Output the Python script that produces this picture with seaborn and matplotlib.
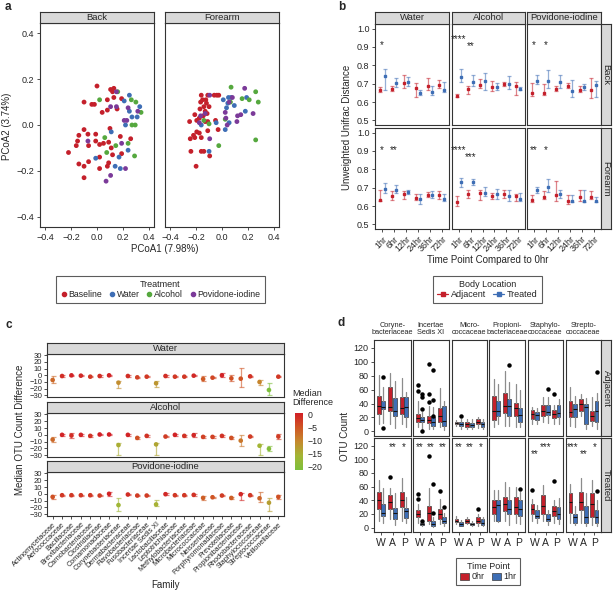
import numpy as np
import pandas as pd
import matplotlib
matplotlib.use("Agg")
import matplotlib.pyplot as plt
import seaborn as sns
from matplotlib.colors import LinearSegmentedColormap, Normalize
from matplotlib.cm import ScalarMappable
from matplotlib.lines import Line2D
from matplotlib.patches import Patch

# ---------------------------------------------------------------- data (a)
TREATMENTS = ["Baseline", "Water", "Alcohol", "Povidone-iodine"]
BACK_BASELINE = [(0.00,0.17),(-0.10,0.10),(-0.04,0.09),(-0.02,0.09),(0.04,0.055),(0.08,0.11),
    (0.105,0.155),(0.13,0.16),(0.12,0.145),(0.13,0.12),(0.155,0.07),(0.19,0.115),(0.08,0.065),
    (-0.10,-0.02),(-0.14,-0.045),(-0.16,-0.09),(-0.15,-0.07),(-0.22,-0.12),(-0.07,-0.04),
    (-0.065,-0.09),(-0.01,-0.04),(-0.01,-0.07),(0.02,-0.085),(0.05,-0.08),(0.09,-0.075),
    (0.10,-0.015),(0.11,-0.10),(0.12,-0.13),(0.18,-0.05),(0.26,-0.06),(-0.14,-0.17),(-0.10,-0.18),
    (-0.065,-0.16),(0.02,-0.14),(0.02,-0.19),(-0.10,-0.23),(0.09,-0.165),(0.08,-0.18),(0.19,-0.125)]
BACK_WATER = [(0.25,0.13),(0.21,0.105),(0.25,0.06),(0.27,0.035),(0.33,0.08),(0.31,0.035),(0.22,0.0),
    (0.11,-0.03),(0.24,-0.11),(0.17,-0.14),(-0.01,-0.145),(0.14,-0.18),(0.18,-0.19)]
BACK_ALCOHOL = [(0.02,0.11),(0.16,0.145),(0.265,0.11),(0.30,0.10),(0.34,0.055),(0.27,0.0),(0.295,0.0),
    (0.06,-0.055),(0.145,-0.09),(0.24,-0.08),(0.075,-0.12),(0.29,-0.135)]
BACK_POVIDONE = [(0.15,0.145),(0.105,0.08),(0.15,0.08),(0.24,0.075),(0.21,0.02),(0.23,0.02),(0.315,0.06),
    (-0.07,-0.07),(0.19,-0.08),(0.22,-0.19),(0.105,-0.22),(0.07,-0.245)]
FORE_BASELINE = [(-0.16,0.13),(-0.125,0.11),(-0.11,0.13),(-0.12,0.095),(-0.15,0.11),(-0.165,0.10),
    (-0.06,0.13),(-0.04,0.13),(-0.025,0.13),(-0.14,0.08),(-0.10,0.08),(-0.17,0.07),(-0.13,0.06),
    (-0.21,0.045),(-0.175,0.03),(-0.145,0.04),(-0.25,0.015),(-0.195,0.02),(-0.13,0.015),(-0.05,0.02),
    (-0.11,0.015),(-0.195,-0.03),(-0.22,-0.045),(-0.175,-0.035),(-0.245,-0.06),(-0.21,-0.055),
    (-0.16,-0.055),(-0.11,-0.025),(-0.03,-0.02),(-0.24,-0.115),(-0.16,-0.115),(-0.14,-0.115),
    (-0.095,-0.135),(-0.20,-0.18),(-0.115,0.05)]
FORE_WATER = [(0.01,0.11),(0.05,0.12),(0.07,0.12),(0.045,0.095),(0.035,0.075),(0.095,0.085),(0.19,0.12),
    (0.18,0.06),(-0.16,0.0),(-0.045,0.01),(0.025,-0.02),(-0.10,-0.115),(0.055,0.01)]
FORE_ALCOHOL = [(0.07,0.165),(0.26,0.145),(0.28,0.10),(0.21,0.11),(0.155,0.115),(0.025,0.025),(0.065,0.10),
    (-0.14,0.02),(-0.10,0.005),(-0.025,-0.09),(0.26,-0.065)]
FORE_POVIDONE = [(-0.095,0.13),(-0.165,0.04),(-0.13,0.05),(0.025,0.055),(0.055,0.10),(0.08,0.12),
    (0.175,0.16),(0.12,0.04),(0.145,0.045),(0.115,0.015),(0.24,0.05),(0.04,0.0),(-0.175,0.01),
    (-0.095,-0.06),(0.03,0.03)]

# ---------------------------------------------------------------- data (b)
TIMEPOINTS = ["1hr", "6hr", "12hr", "24hr", "36hr", "72hr"]
# (mean, low, high) for Adjacent / Treated
B_BACK_WATER_ADJ = [(0.665,0.655,0.68),(0.672,0.66,0.685),(0.705,0.675,0.745),(0.675,0.63,0.705),(0.69,0.665,0.73),(0.695,0.675,0.72)]
B_BACK_WATER_TRT = [(0.74,0.665,0.78),(0.705,0.68,0.73),(0.71,0.685,0.735),(0.65,0.64,0.665),(0.652,0.64,0.69),(0.665,0.655,0.71)]
B_BACK_ALC_ADJ = [(0.635,0.625,0.645),(0.67,0.645,0.685),(0.695,0.675,0.725),(0.68,0.66,0.715),(0.70,0.69,0.71),(0.69,0.64,0.71)]
B_BACK_ALC_TRT = [(0.735,0.71,0.78),(0.71,0.69,0.75),(0.715,0.665,0.76),(0.68,0.665,0.705),(0.70,0.67,0.74),(0.672,0.665,0.68)]
B_BACK_POV_ADJ = [(0.65,0.635,0.705),(0.65,0.64,0.70),(0.672,0.66,0.69),(0.69,0.675,0.705),(0.668,0.655,0.685),(0.665,0.62,0.73)]
B_BACK_POV_TRT = [(0.715,0.70,0.745),(0.715,0.675,0.775),(0.71,0.675,0.75),(0.66,0.63,0.72),(0.68,0.665,0.70),(0.695,0.63,0.715)]
B_FORE_WATER_ADJ = [(0.635,0.63,0.685),(0.652,0.635,0.68),(0.665,0.64,0.68),(0.645,0.635,0.665),(0.662,0.65,0.675),(0.658,0.64,0.68)]
B_FORE_WATER_TRT = [(0.695,0.672,0.725),(0.69,0.67,0.715),(0.675,0.665,0.685),(0.64,0.61,0.665),(0.66,0.645,0.68),(0.64,0.63,0.665)]
B_FORE_ALC_ADJ = [(0.62,0.60,0.655),(0.665,0.645,0.685),(0.67,0.635,0.685),(0.655,0.64,0.67),(0.668,0.645,0.685),(0.655,0.63,0.665)]
B_FORE_ALC_TRT = [(0.73,0.705,0.755),(0.73,0.715,0.75),(0.67,0.655,0.705),(0.665,0.64,0.695),(0.655,0.63,0.69),(0.64,0.63,0.67)]
B_FORE_POV_ADJ = [(0.635,0.62,0.66),(0.65,0.64,0.68),(0.66,0.625,0.735),(0.625,0.61,0.66),(0.65,0.625,0.685),(0.65,0.64,0.68)]
B_FORE_POV_TRT = [(0.685,0.67,0.705),(0.705,0.675,0.745),(0.665,0.645,0.69),(0.63,0.62,0.66),(0.63,0.62,0.685),(0.63,0.62,0.65)]
# significance marks: (row, col, timepoint index, y, text)
B_STARS = [(0,0,0,0.91,"*"),(0,1,0,0.945,"****"),(0,1,1,0.905,"**"),(0,2,0,0.91,"*"),(0,2,1,0.91,"*"),
           (1,0,0,0.905,"*"),(1,0,1,0.905,"**"),(1,1,0,0.905,"****"),(1,1,1,0.865,"***"),
           (1,2,0,0.905,"**"),(1,2,1,0.905,"*")]

# ---------------------------------------------------------------- data (c)
FAMILIES = ["Actinomycetaceae","Aerococcaceae","Bacillaceae","Brevibacteriaceae","Carnobacteriaceae",
    "Clostridiaceae","Comamonadaceae","Corynebacteriaceae","Dermabacteraceae","Flavobacteriaceae",
    "Fusobacteriaceae","Incertae Sedis XI","Lactobacillaceae","Leptotrichiaceae","Methylobacteriaceae",
    "Microbacteriaceae","Micrococcaceae","Neisseriaceae","Porphyromonadaceae","Prevotellaceae",
    "Propionibacteriaceae","Rhodobacteraceae","Staphylococcaceae","Streptococcaceae","Veillonellaceae"]
C_WATER_MED = [-7,-1,0,-0.5,-2,-1,0,-11,-1,-3,-2,-12,-1,-2,-2,-0.5,-5.5,-3.5,0,-4.5,-5,-1.5,-10,-22,-2]
C_WATER_LO = [-12,-2,-1,-1.5,-3,-2,-1,-19.5,-2,-4,-3,-17,-2,-3,-3,-1.5,-8,-4.5,-2.5,-9,-17,-2.5,-14,-30,-3]
C_WATER_HI = [-1.5,0,1,0.5,-1,0,1,-8,0,-2,-1,-9,0,-1,-1,0.5,-1.5,-2.5,3,0,11,-0.5,-7.5,-12,-1]
C_ALC_MED = [-7,0,-1,0,-1.5,0.5,0.5,-15,0,-4.5,-1.5,-14,-2.5,0,-1.5,-0.5,-3,-3,-1.5,-4.5,-8.5,-2.5,-16,-20.5,-2.5]
C_ALC_LO = [-10.5,-1,-4,-1,-2.5,-0.5,-0.5,-30,-1,-5.5,-2.5,-30,-3.5,-1,-2.5,-3.5,-4,-4,-2.5,-5.5,-16,-3.5,-30,-24,-5.5]
C_ALC_HI = [-3,1,3,1,-0.5,1.5,1.5,-11.5,1,-3.5,-0.5,-11.5,-1.5,1,-0.5,2.5,-2,-2,-0.5,-3.5,-0.5,-1.5,-13,-17,0.5]
C_POV_MED = [-4.5,-2,-2,-2,-2,-2.5,0,-16.5,-1,-2.5,-2.5,-15.5,-0.5,-2,-2,-1.5,-6,-5,-2.5,-6,-0.5,-2,-6.5,-13,-4.5]
C_POV_LO = [-7.5,-3,-3,-3,-3,-3.5,-2.5,-25.5,-2,-3.5,-3.5,-18,-1.5,-3,-3,-2.5,-8.5,-6,-3.5,-7,-9.5,-3,-12.5,-24.5,-7.5]
C_POV_HI = [-1.5,-1,-1,-1,-1,-1.5,2.5,-6,0,-1.5,-1.5,-9,0.5,-1,-1,-0.5,-3.5,-4,-1.5,-5,1.5,-1,2,-6,-1.5]

# ---------------------------------------------------------------- data (d)
D_FAMILIES = ["Coryne-\nbacteriaceae","Incertae\nSedis XI","Micro-\ncoccaceae",
              "Propioni-\nbacteriaceae","Staphylo-\ncoccaceae","Strepto-\ncoccaceae"]
D_TREAT = ["W", "A", "P"]
# each row: (whislo, q1, median, q3, whishi) for W-0hr, W-1hr, A-0hr, A-1hr, P-0hr, P-1hr
D_ADJ_CORYNE = [(10,25,37,51,81),(12,32,35,43,63),(10,30,35,64,84),(5,22,30,48,72),(11,25,34,50,77),(6,20,35,49,57)]
D_ADJ_INCERTAE = [(6,13,19,25,44),(3,13,16,20,28),(4,12,17,22,36),(3,8,13,21,35),(7,13,22,33,62),(2,8,15,37,44)]
D_ADJ_MICRO = [(8,10,12,14,16),(3,8,10,13,18),(3,7,10,13,18),(3,7,9,12,18),(5,10,13,18,20),(3,7,10,14,18)]
D_ADJ_PROPIONI = [(6,16,30,51,75),(10,22,30,43,68),(8,27,37,55,87),(8,22,37,47,71),(7,22,34,41,68),(6,14,23,34,60)]
D_ADJ_STAPHYLO = [(11,18,25,31,35),(11,16,23,28,33),(13,22,30,38,49),(12,24,28,38,50),(10,19,25,31,38),(10,20,26,38,47)]
D_ADJ_STREPTO = [(8,20,28,44,63),(6,20,32,39,51),(22,30,39,46,53),(4,10,35,39,48),(8,15,22,30,49),(3,13,30,44,55)]
D_TRT_CORYNE = [(10,27,40,52,69),(7,17,21,35,58),(12,27,37,47,58),(4,12,22,29,50),(10,30,41,52,72),(6,14,24,29,45)]
D_TRT_INCERTAE = [(6,15,20,25,34),(3,4,5,7,9),(5,10,22,32,58),(1,2,5,10,15),(5,12,20,27,42),(2,6,10,15,22)]
D_TRT_MICRO = [(5,8,10,13,17),(2,3,5,8,11),(5,6,9,12,16),(3,4,5,7,10),(3,7,10,16,20),(2,4,7,12,16)]
D_TRT_PROPIONI = [(10,20,30,40,55),(8,10,33,40,55),(10,24,35,45,67),(4,20,27,40,60),(7,20,30,45,60),(5,17,27,40,52)]
D_TRT_STAPHYLO = [(10,20,27,35,42),(7,14,17,25,33),(10,20,32,47,62),(4,9,13,20,26),(7,17,24,31,40),(5,12,20,30,43)]
D_TRT_STREPTO = [(7,22,37,50,64),(4,7,15,20,32),(7,25,37,52,72),(2,7,15,32,50),(4,15,35,50,69),(2,6,15,25,40)]
# outliers: (family index, box index, value)
D_ADJ_FLIERS = [(0,1,78),(0,1,5),(1,0,66),(1,0,58),(1,1,53),(1,1,50),(1,1,32),(1,1,0),(1,2,96),(1,2,53),
                (1,2,42),(1,3,88),(1,3,45),(1,3,22),(2,1,22),(3,3,95),(4,3,61),(4,4,54),(5,5,85)]
D_TRT_FLIERS = [(0,2,74),(1,0,49),(1,0,42),(1,1,10),(1,2,104),(1,3,64),(1,3,22),(1,4,54),(1,5,30),
                (2,4,27),(3,5,56),(4,0,55),(4,4,68),(5,5,54)]
# significance marks in Treated row: (family index, treatment index, y, text)
D_STARS = [(0,1,118,"**"),(0,2,118,"*"),(1,0,118,"**"),(1,1,118,"**"),(1,2,118,"**"),
           (2,0,118,"**"),(2,1,118,"**"),(2,2,118,"*"),(4,0,107,"**"),(4,1,118,"***"),
           (5,0,118,"***"),(5,1,107,"**"),(5,2,118,"*")]

# ---------------------------------------------------------------- style
sns.set_theme(style="ticks")
plt.rcParams["font.family"] = ["Liberation Sans", "DejaVu Sans"]
plt.rcParams["axes.unicode_minus"] = True

RED = "#C4202B"
BLUE = "#3E6EB5"
GREEN = "#55A83E"
PURPLE = "#7B3A99"
TREAT_COLORS = dict(zip(TREATMENTS, [RED, BLUE, GREEN, PURPLE]))
EDGE = "#333333"
STRIP = "#D9D9D9"

W, H = 615, 593
fig = plt.figure(figsize=(W / 100, H / 100), dpi=100)


def add_ax(x0, y0, x1, y1):
    return fig.add_axes([x0 / W, 1 - y1 / H, (x1 - x0) / W, (y1 - y0) / H])


def style_ax(a, fs=6.5):
    for s in a.spines.values():
        s.set_color(EDGE)
        s.set_linewidth(0.8)
    a.tick_params(axis="both", which="both", direction="out", length=2.5, width=0.6,
                  color=EDGE, labelsize=fs, pad=1.5, left=True, bottom=True)
    a.grid(False)


def strip(x0, y0, x1, y1, text, rot=0, fs=6.8):
    a = add_ax(x0, y0, x1, y1)
    a.set_facecolor(STRIP)
    a.set_xticks([])
    a.set_yticks([])
    for s in a.spines.values():
        s.set_color(EDGE)
        s.set_linewidth(0.8)
    a.text(0.5, 0.5, text, transform=a.transAxes, ha="center", va="center",
           rotation=rot, fontsize=fs)
    return a


def ftext(x, y, s, **kw):
    fig.text(x / W, 1 - y / H, s, **kw)


# ================================================================ panel a
a_groups = {"Back": [BACK_BASELINE, BACK_WATER, BACK_ALCOHOL, BACK_POVIDONE],
            "Forearm": [FORE_BASELINE, FORE_WATER, FORE_ALCOHOL, FORE_POVIDONE]}
a_ticks = [-0.4, -0.2, 0.0, 0.2, 0.4]
a_labels = ["\u22120.4", "\u22120.2", "0.0", "0.2", "0.4"]
for i, (loc, x0, x1) in enumerate([("Back", 40, 154), ("Forearm", 165, 279)]):
    ax = add_ax(x0, 23, x1, 227)
    rows = []
    for tname, pts in zip(TREATMENTS, a_groups[loc]):
        for (px, py) in pts:
            rows.append({"x": px, "y": py, "Treatment": tname})
    df = pd.DataFrame(rows)
    sns.scatterplot(data=df, x="x", y="y", hue="Treatment", hue_order=TREATMENTS,
                    palette=TREAT_COLORS, s=12, edgecolor="none", legend=False, ax=ax)
    ax.set_xlim(-0.44, 0.44)
    ax.set_ylim(-0.445, 0.445)
    ax.set_xticks(a_ticks)
    ax.set_xticklabels(a_labels)
    ax.set_yticks(a_ticks)
    ax.set_yticklabels(a_labels)
    ax.set_xlabel("")
    ax.set_ylabel("")
    style_ax(ax)
    if i == 1:
        ax.tick_params(axis="y", left=False, labelleft=False)
    strip(x0, 12, x1, 23, loc)

ftext(165, 249, "PCoA1 (7.98%)", ha="center", va="center", fontsize=7)
ftext(7, 126, "PCoA2 (3.74%)", ha="center", va="center", fontsize=7, rotation=90)
ftext(8, 7, "a", ha="center", va="center", fontsize=8.5, fontweight="bold")

a_handles = [Line2D([], [], marker="o", ls="", color=TREAT_COLORS[t], ms=3) for t in TREATMENTS]
leg = fig.legend(a_handles, TREATMENTS, title="Treatment", ncol=4, loc="center",
                 bbox_to_anchor=(160 / W, 1 - 289.5 / H), fontsize=6.3, title_fontsize=6.5,
                 frameon=True, fancybox=False, edgecolor=EDGE, handletextpad=0.05,
                 columnspacing=0.6, handlelength=1.0, borderpad=0.45, labelspacing=0.2)
leg.get_frame().set_linewidth(0.8)

# ================================================================ panel b
b_cols = [("Water", 375, 449), ("Alcohol", 452, 525), ("Povidone-iodine", 527, 601)]
b_rows = [("Back", 24, 125), ("Forearm", 128, 229)]
b_data = [[(B_BACK_WATER_ADJ, B_BACK_WATER_TRT), (B_BACK_ALC_ADJ, B_BACK_ALC_TRT), (B_BACK_POV_ADJ, B_BACK_POV_TRT)],
          [(B_FORE_WATER_ADJ, B_FORE_WATER_TRT), (B_FORE_ALC_ADJ, B_FORE_ALC_TRT), (B_FORE_POV_ADJ, B_FORE_POV_TRT)]]
b_axes = {}
xpos = np.arange(1, len(TIMEPOINTS) + 1)
for r, (rname, y0, y1) in enumerate(b_rows):
    for c, (cname, x0, x1) in enumerate(b_cols):
        ax = add_ax(x0, y0, x1, y1)
        b_axes[(r, c)] = ax
        for k, (series, col) in enumerate(zip(b_data[r][c], [RED, BLUE])):
            arr = np.array(series)
            off = -0.2 if k == 0 else 0.2
            ax.errorbar(xpos + off, arr[:, 0], yerr=[arr[:, 0] - arr[:, 1], arr[:, 2] - arr[:, 0]],
                        fmt="none", ecolor=col, alpha=0.55, elinewidth=0.9, capsize=1.6, capthick=0.9)
            ax.plot(xpos + off, arr[:, 0], ls="", marker="s", ms=2.0, color=col)
        ax.set_xlim(0.4, 6.6)
        ax.set_ylim(0.475, 1.025)
        ax.set_xticks(xpos)
        ax.set_yticks([0.5, 0.6, 0.7, 0.8, 0.9, 1.0])
        ax.set_yticklabels(["0.5", "0.6", "0.7", "0.8", "0.9", "1.0"])
        style_ax(ax)
        if r == 1:
            ax.set_xticklabels(TIMEPOINTS, rotation=45, ha="right", rotation_mode="anchor")
        else:
            ax.tick_params(axis="x", bottom=False, labelbottom=False)
        if c > 0:
            ax.tick_params(axis="y", left=False, labelleft=False)
        if r == 0:
            strip(x0, 12, x1, 24, cname)
    strip(601, y0, 611, y1, rname, rot=-90)
for (r, c, ti, yv, txt) in B_STARS:
    b_axes[(r, c)].text(xpos[ti], yv, txt, ha="center", va="center", fontsize=7)

ftext(347, 127, "Unweighted Unifrac Distance", ha="center", va="center", fontsize=7, rotation=90)
ftext(488, 260, "Time Point Compared to 0hr", ha="center", va="center", fontsize=7)
ftext(342, 7, "b", ha="center", va="center", fontsize=8.5, fontweight="bold")

b_handles = [Line2D([], [], marker="s", ms=2.5, color=RED, lw=0.9),
             Line2D([], [], marker="s", ms=2.5, color=BLUE, lw=0.9)]
leg = fig.legend(b_handles, ["Adjacent", "Treated"], title="Body Location", ncol=2, loc="center",
                 bbox_to_anchor=(487.5 / W, 1 - 289.5 / H), fontsize=6.5, title_fontsize=6.5,
                 frameon=True, fancybox=False, edgecolor=EDGE, handletextpad=0.3,
                 columnspacing=0.8, handlelength=1.2, borderpad=0.45, labelspacing=0.2)
leg.get_frame().set_linewidth(0.8)

# ================================================================ panel c
cmap = LinearSegmentedColormap.from_list("meddiff", ["#7DBF3C", "#A3B535", "#C5892E", "#CF5524", "#D21F26"])
cnorm = Normalize(vmin=-21.5, vmax=0.5)
c_panels = [("Water", 343, 354, 397, C_WATER_MED, C_WATER_LO, C_WATER_HI),
            ("Alcohol", 402, 413, 457, C_ALC_MED, C_ALC_LO, C_ALC_HI),
            ("Povidone-iodine", 461, 472, 516, C_POV_MED, C_POV_LO, C_POV_HI)]
cx = np.arange(1, len(FAMILIES) + 1)
for i, (name, ys, y0, y1, med, lo, hi) in enumerate(c_panels):
    ax = add_ax(47, y0, 284, y1)
    med = np.array(med, float)
    lo = np.array(lo, float)
    hi = np.array(hi, float)
    for xi, m, l, h in zip(cx, med, lo, hi):
        ax.errorbar([xi], [m], yerr=[[m - l], [h - m]], fmt="none", ecolor=cmap(cnorm(m)),
                    alpha=0.6, elinewidth=0.9, capsize=1.8, capthick=0.9)
    df = pd.DataFrame({"x": cx, "med": med})
    sns.scatterplot(data=df, x="x", y="med", hue="med", palette=cmap, hue_norm=cnorm,
                    s=11, edgecolor="none", legend=False, ax=ax)
    ax.set_xlim(0.4, len(FAMILIES) + 0.6)
    ax.set_ylim(-32.5, 32)
    ax.set_yticks([-30, -20, -10, 0, 10, 20, 30])
    ax.set_yticklabels(["\u221230", "\u221220", "\u221210", "0", "10", "20", "30"])
    ax.set_xticks(cx)
    ax.set_xlabel("")
    ax.set_ylabel("")
    style_ax(ax, fs=5.5)
    ax.tick_params(axis="both", length=2)
    if i == 2:
        ax.set_xticklabels(FAMILIES, rotation=45, ha="right", rotation_mode="anchor", fontsize=5.2)
    else:
        ax.tick_params(axis="x", bottom=False, labelbottom=False)
    strip(47, ys, 284, y0, name)

cax = add_ax(295, 413, 303, 470)
cb = fig.colorbar(ScalarMappable(norm=cnorm, cmap=cmap), cax=cax, ticks=[0, -5, -10, -15, -20])
cb.outline.set_visible(False)
cb.ax.set_yticklabels(["0", "\u22125", "\u221210", "\u221215", "\u221220"])
cb.ax.tick_params(labelsize=6.3, length=2, color="white", pad=1.5)
ftext(292, 398, "Median\nDifference", ha="left", va="center", fontsize=6.5, linespacing=1.1)

ftext(20, 430, "Median OTU Count Difference", ha="center", va="center", fontsize=7, rotation=90)
ftext(165, 585, "Family", ha="center", va="center", fontsize=7)
ftext(9, 325, "c", ha="center", va="center", fontsize=8.5, fontweight="bold")

# ================================================================ panel d
d_cols = [(374, 411), (413, 449), (452, 487), (489, 525), (528, 563), (566, 601)]
d_rows = [("Adjacent", 340, 436,
           [D_ADJ_CORYNE, D_ADJ_INCERTAE, D_ADJ_MICRO, D_ADJ_PROPIONI, D_ADJ_STAPHYLO, D_ADJ_STREPTO],
           D_ADJ_FLIERS),
          ("Treated", 438, 532,
           [D_TRT_CORYNE, D_TRT_INCERTAE, D_TRT_MICRO, D_TRT_PROPIONI, D_TRT_STAPHYLO, D_TRT_STREPTO],
           D_TRT_FLIERS)]
d_axes = {}
for r, (rname, y0, y1, fams, fliers) in enumerate(d_rows):
    for f, (x0, x1) in enumerate(d_cols):
        ax = add_ax(x0, y0, x1, y1)
        d_axes[(r, f)] = ax
        stats = []
        positions = []
        colors = []
        for b, (lo_w, q1, md, q3, hi_w) in enumerate(fams[f]):
            fl = [v for (fi, bi, v) in fliers if fi == f and bi == b]
            stats.append({"whislo": lo_w, "q1": q1, "med": md, "q3": q3, "whishi": hi_w, "fliers": fl})
            positions.append(b // 2 + 1 + (-0.19 if b % 2 == 0 else 0.19))
            colors.append(RED if b % 2 == 0 else BLUE)
        bp = ax.bxp(stats, positions=positions, widths=0.36, patch_artist=True, showfliers=True,
                    boxprops=dict(edgecolor="#3A3A3A", linewidth=0.5),
                    whiskerprops=dict(color="#8C8C8C", linewidth=0.9),
                    capprops=dict(linewidth=0),
                    medianprops=dict(color="#111111", linewidth=0.8),
                    flierprops=dict(marker="o", markersize=2.2, markerfacecolor="black",
                                    markeredgecolor="black", linestyle="none"))
        for patch, col in zip(bp["boxes"], colors):
            patch.set_facecolor(col)
        ax.set_xlim(0.4, 3.6)
        ax.set_ylim(-6.5, 131)
        ax.set_xticks([1, 2, 3])
        ax.set_yticks([0, 20, 40, 60, 80, 100, 120])
        style_ax(ax)
        if r == 1:
            ax.set_xticklabels(D_TREAT, fontsize=7.5)
        else:
            ax.tick_params(axis="x", bottom=False, labelbottom=False)
        if f > 0:
            ax.tick_params(axis="y", left=False, labelleft=False)
        if r == 0:
            ftext((x0 + x1) / 2, 329, D_FAMILIES[f], ha="center", va="center",
                  fontsize=5.3, linespacing=1.0)
    strip(601, y0, 611, y1, rname, rot=-90)
for (f, t, yv, txt) in D_STARS:
    d_axes[(1, f)].text(t + 1, yv, txt, ha="center", va="center", fontsize=7)

ftext(345, 436, "OTU Count", ha="center", va="center", fontsize=7, rotation=90)
ftext(341, 323, "d", ha="center", va="center", fontsize=8.5, fontweight="bold")

d_handles = [Patch(facecolor=RED, edgecolor="#3A3A3A", linewidth=0.5),
             Patch(facecolor=BLUE, edgecolor="#3A3A3A", linewidth=0.5)]
leg = fig.legend(d_handles, ["0hr", "1hr"], title="Time Point", ncol=2, loc="center",
                 bbox_to_anchor=(488 / W, 1 - 571.5 / H), fontsize=6.5, title_fontsize=6.5,
                 frameon=True, fancybox=False, edgecolor=EDGE, handletextpad=0.3,
                 columnspacing=0.8, handlelength=1.0, handleheight=0.8, borderpad=0.45, labelspacing=0.2)
leg.get_frame().set_linewidth(0.8)

fig.savefig("out.png", dpi=100, facecolor="white")
